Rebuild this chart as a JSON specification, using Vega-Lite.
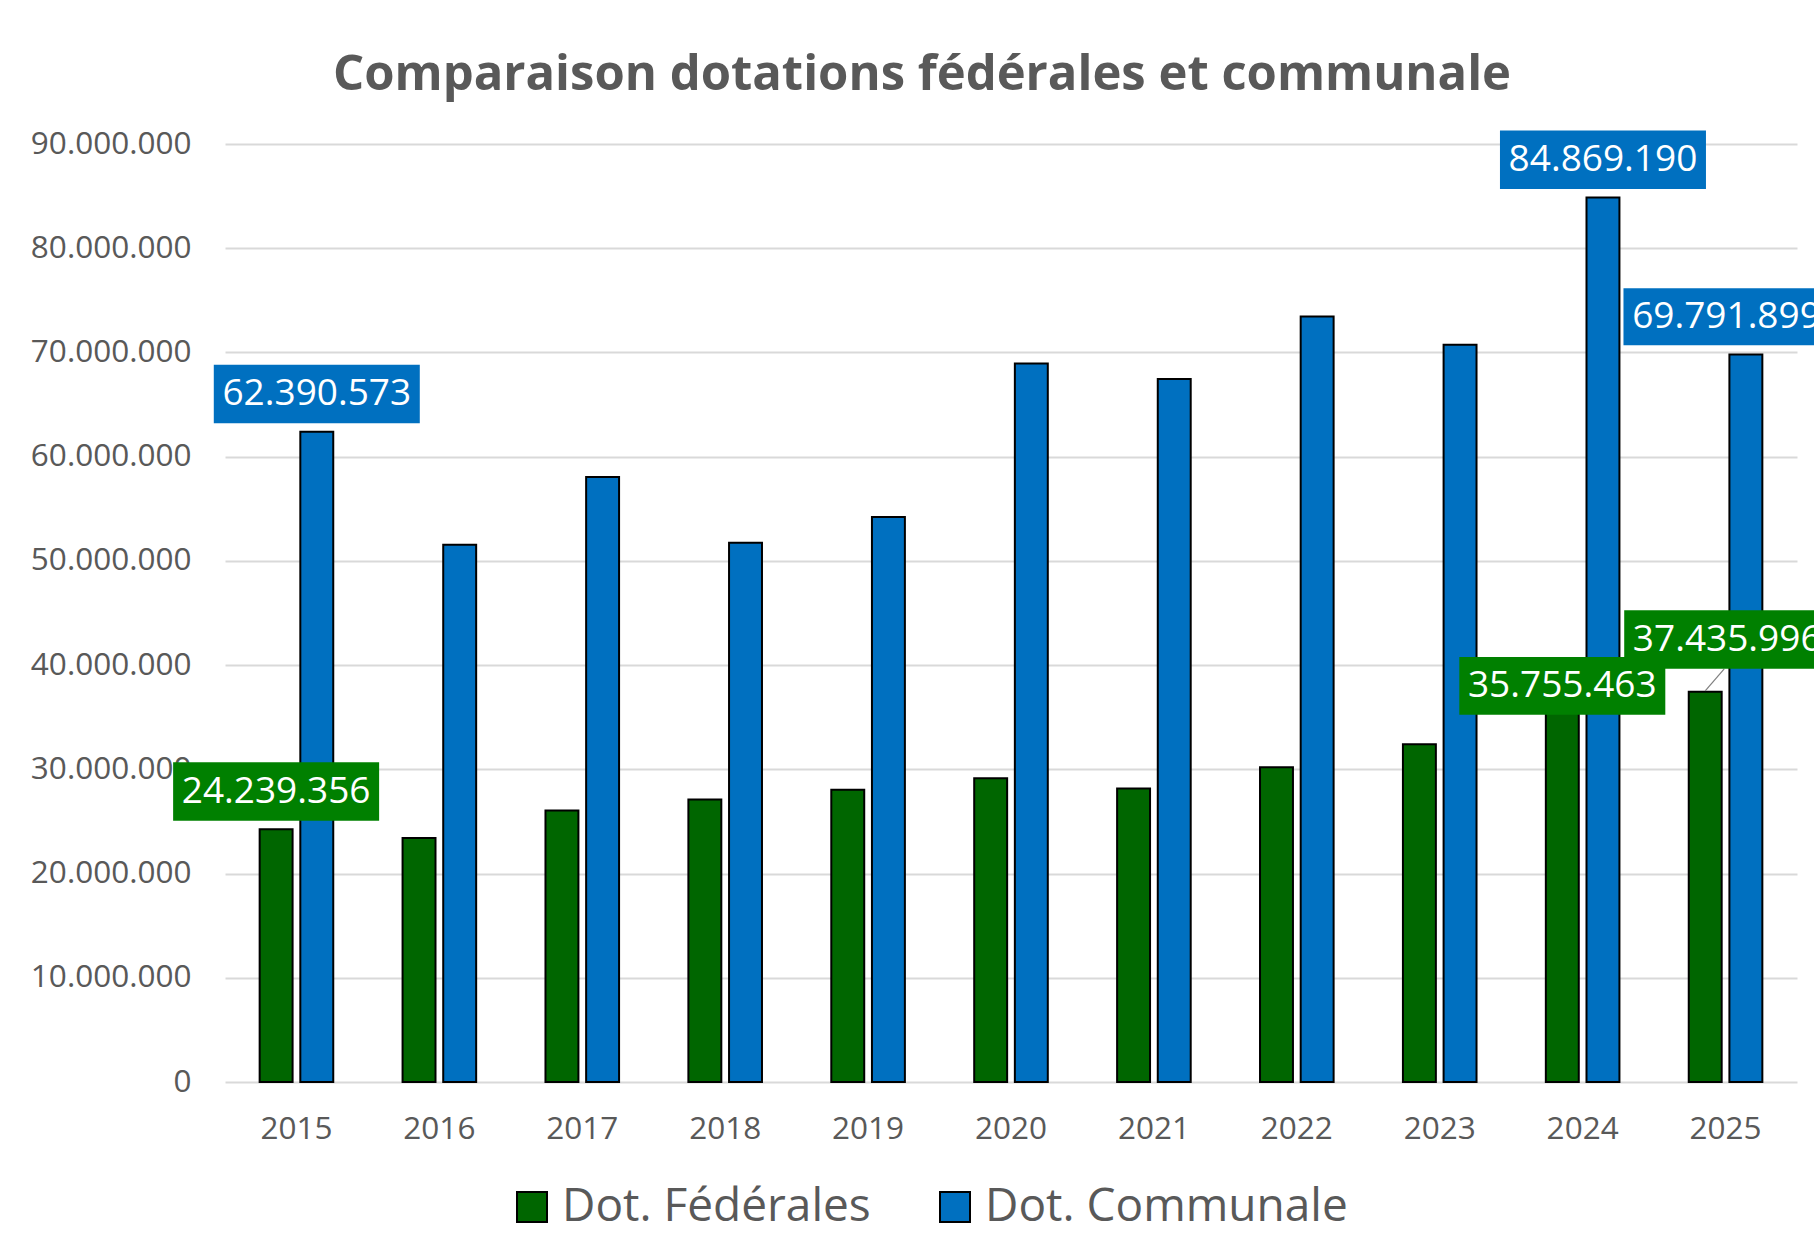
{
  "$schema": "https://vega.github.io/schema/vega-lite/v6.json",
  "width": 1572,
  "height": 938,
  "autosize": {"type": "none"},
  "padding": {"left": 225, "top": 144, "right": 17, "bottom": 177},
  "background": "white",
  "title": {
    "text": "Comparaison dotations fédérales et communale",
    "font": "Open Sans",
    "fontSize": 49,
    "fontWeight": "bold",
    "color": "#595959",
    "anchor": "middle",
    "baseline": "alphabetic",
    "offset": -11,
    "dx": -89
  },
  "config": {
    "view": {"stroke": null},
    "locale": {"number": {"decimal": ",", "thousands": ".", "grouping": [3], "currency": ["", " €"]}}
  },
  "data": {
    "values": [
      {"year": "2015", "series": "Dot. Fédérales", "value": 24239356},
      {"year": "2015", "series": "Dot. Communale", "value": 62390573},
      {"year": "2016", "series": "Dot. Fédérales", "value": 23400000},
      {"year": "2016", "series": "Dot. Communale", "value": 51550000},
      {"year": "2017", "series": "Dot. Fédérales", "value": 26050000},
      {"year": "2017", "series": "Dot. Communale", "value": 58050000},
      {"year": "2018", "series": "Dot. Fédérales", "value": 27100000},
      {"year": "2018", "series": "Dot. Communale", "value": 51750000},
      {"year": "2019", "series": "Dot. Fédérales", "value": 28050000},
      {"year": "2019", "series": "Dot. Communale", "value": 54200000},
      {"year": "2020", "series": "Dot. Fédérales", "value": 29150000},
      {"year": "2020", "series": "Dot. Communale", "value": 68950000},
      {"year": "2021", "series": "Dot. Fédérales", "value": 28150000},
      {"year": "2021", "series": "Dot. Communale", "value": 67450000},
      {"year": "2022", "series": "Dot. Fédérales", "value": 30200000},
      {"year": "2022", "series": "Dot. Communale", "value": 73450000},
      {"year": "2023", "series": "Dot. Fédérales", "value": 32400000},
      {"year": "2023", "series": "Dot. Communale", "value": 70750000},
      {"year": "2024", "series": "Dot. Fédérales", "value": 35755463},
      {"year": "2024", "series": "Dot. Communale", "value": 84869190},
      {"year": "2025", "series": "Dot. Fédérales", "value": 37435996},
      {"year": "2025", "series": "Dot. Communale", "value": 69791899}
    ]
  },
  "encoding": {
    "x": {
      "field": "year",
      "type": "nominal",
      "scale": {"paddingInner": 0.485, "paddingOuter": 0.2425},
      "axis": {
        "title": null,
        "labelAngle": 0,
        "labelFont": "Open Sans",
        "labelFontSize": 31.5,
        "labelColor": "#595959",
        "labelPadding": 31,
        "ticks": false,
        "domain": false,
        "grid": false
      }
    },
    "xOffset": {
      "field": "series",
      "type": "nominal",
      "sort": ["Dot. Fédérales", "Dot. Communale"],
      "scale": {"paddingInner": 0.19, "paddingOuter": 0}
    },
    "y": {
      "field": "value",
      "type": "quantitative",
      "scale": {"domain": [0, 90000000], "nice": false},
      "axis": {
        "title": null,
        "values": [0, 10000000, 20000000, 30000000, 40000000, 50000000, 60000000, 70000000, 80000000, 90000000],
        "format": ",d",
        "labelFont": "Open Sans",
        "labelFontSize": 31.5,
        "labelColor": "#595959",
        "labelPadding": 34,
        "ticks": false,
        "domain": false,
        "grid": true,
        "gridColor": "#d9d9d9",
        "gridWidth": 2
      }
    }
  },
  "layer": [
    {
      "mark": {"type": "bar", "stroke": "black", "strokeWidth": 2},
      "encoding": {
        "color": {
          "field": "series",
          "type": "nominal",
          "scale": {"domain": ["Dot. Fédérales", "Dot. Communale"], "range": ["#006600", "#0070C0"]},
          "legend": {
            "title": null,
            "orient": "none",
            "legendX": 284,
            "legendY": 1040,
            "direction": "horizontal",
            "labelFont": "Open Sans",
            "labelFontSize": 46,
            "labelColor": "#595959",
            "labelLimit": 600,
            "symbolType": "square",
            "symbolSize": 900,
            "symbolStrokeColor": "black",
            "symbolStrokeWidth": 2,
            "symbolOpacity": 1,
            "labelOffset": 7,
            "columnPadding": 61,
            "padding": 0
          }
        }
      }
    },
    {
      "transform": [{"filter": "datum.year === '2015' || (datum.year === '2024' && datum.series === 'Dot. Communale')"}],
      "mark": {"type": "point", "shape": "M-1.03,-0.67H1.03V-0.085H-1.03Z", "size": 40000, "filled": true, "opacity": 1, "strokeWidth": 0},
      "encoding": {
        "fill": {"condition": {"test": "datum.series === 'Dot. Fédérales'", "value": "#008000"}, "value": "#0070C0"}
      }
    },
    {
      "transform": [{"filter": "datum.year === '2015' || (datum.year === '2024' && datum.series === 'Dot. Communale')"}],
      "mark": {"type": "text", "font": "Open Sans", "fontSize": 37, "color": "white", "baseline": "middle", "dy": -37.5},
      "encoding": {"text": {"field": "value", "type": "quantitative", "format": ",d"}}
    },
    {
      "transform": [{"filter": "datum.year === '2024' && datum.series === 'Dot. Fédérales'"}],
      "mark": {"type": "point", "shape": "M-1.03,-0.524H1.03V0.053H-1.03Z", "size": 40000, "filled": true, "opacity": 1, "strokeWidth": 0, "fill": "#008000"}
    },
    {
      "transform": [{"filter": "datum.year === '2024' && datum.series === 'Dot. Fédérales'"}],
      "mark": {"type": "text", "font": "Open Sans", "fontSize": 37, "color": "white", "baseline": "middle", "dy": -23.5},
      "encoding": {"text": {"field": "value", "type": "quantitative", "format": ",d"}}
    },
    {
      "transform": [{"filter": "datum.year === '2025' && datum.series === 'Dot. Communale'"}],
      "mark": {"type": "point", "shape": "M-1.224,-0.663H0.836V-0.093H-1.224Z", "size": 40000, "filled": true, "opacity": 1, "strokeWidth": 0, "fill": "#0070C0"}
    },
    {
      "transform": [{"filter": "datum.year === '2025' && datum.series === 'Dot. Communale'"}],
      "mark": {"type": "text", "font": "Open Sans", "fontSize": 37, "color": "white", "baseline": "middle", "dx": -19.4, "dy": -37.8},
      "encoding": {"text": {"field": "value", "type": "quantitative", "format": ",d"}}
    },
    {
      "transform": [{"filter": "datum.year === '2025' && datum.series === 'Dot. Fédérales'"}],
      "mark": {"type": "point", "shape": "M0,-0.01L0.19,-0.23", "size": 40000, "filled": false, "opacity": 1, "strokeWidth": 1.2, "color": "#7f7f7f"}
    },
    {
      "transform": [{"filter": "datum.year === '2025' && datum.series === 'Dot. Fédérales'"}],
      "mark": {"type": "point", "shape": "M-0.81,-0.817H1.25V-0.23H-0.81Z", "size": 40000, "filled": true, "opacity": 1, "strokeWidth": 0, "fill": "#008000"}
    },
    {
      "transform": [{"filter": "datum.year === '2025' && datum.series === 'Dot. Fédérales'"}],
      "mark": {"type": "text", "font": "Open Sans", "fontSize": 37, "color": "white", "baseline": "middle", "dx": 22, "dy": -52.3},
      "encoding": {"text": {"field": "value", "type": "quantitative", "format": ",d"}}
    }
  ]
}
